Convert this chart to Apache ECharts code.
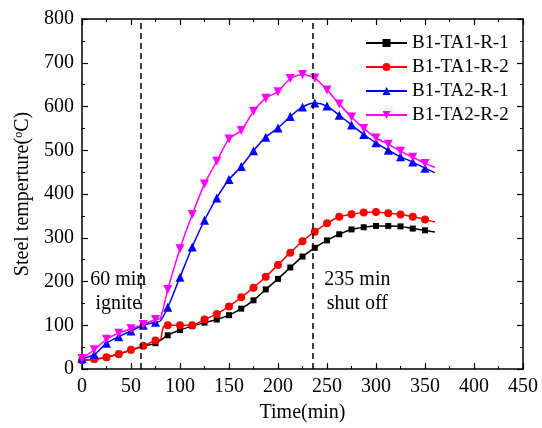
<!DOCTYPE html>
<html>
<head>
<meta charset="utf-8">
<script src="https://cdn.jsdelivr.net/npm/echarts@6/dist/echarts.min.js"></script>
<style>
html,body{margin:0;padding:0;background:#fff;}
#chart{width:542px;height:428px;}
</style>
</head>
<body>
<div id="chart"></div>
<script>
// Marker times (min)
const times = [0,12.5,25,37.5,50,62.5,75,87.5,100,112.5,125,137.5,150,162.5,175,187.5,200,212.5,225,237.5,250,262.5,275,287.5,300,312.5,325,337.5,350];
const seriesNames = ['B1-TA1-R-1','B1-TA1-R-2','B1-TA2-R-1','B1-TA2-R-2'];
const tempTA1R1 = [20,22,27,35,43,52,59,77,89,98,106,113,123,138,157,182,206,232,257,277,294,308,319,324,327,327,326,321,317];
const tempTA1R2 = [20,23,27,34,44,53,65,100,100,100,113,126,143,164,186,211,238,266,292,314,333,348,354,358,359,356,353,348,342];
const tempTA2R1 = [24,33,59,74,87,100,107,141,210,279,340,391,433,463,499,530,551,577,599,608,601,580,558,536,517,500,485,473,459];
const tempTA2R2 = [24,44,68,82,92,102,113,182,275,353,423,475,526,545,589,619,634,664,673,665,638,606,576,550,528,514,498,484,470];
// Extra curve points without markers [time, temp]
const extraTA1R1 = [[360,313]];
const extraTA1R2 = [[80,67],[83,96],[360,336]];
const extraTA2R1 = [[80,110],[360,449]];
const extraTA2R2 = [[80,116],[360,461]];
// Event lines
const eventTimes = [60,235];
const eventLabels = [['60 min','ignite'],['235 min','shut off']];
const xTicks = {min:0,max:450,interval:50};
const yTicks = {min:0,max:800,interval:100};

const FONT = '"Liberation Serif","Times New Roman",serif';

function buildData(vals, extra){
  const pts = times.map((t,i)=>({value:[t,vals[i]]}));
  extra.forEach(p=>pts.push({value:[p[0],p[1]],symbol:'none'}));
  pts.sort((a,b)=>a.value[0]-b.value[0]);
  return pts;
}

const styles = [
  {color:'#000000', symbol:'rect', size:6},
  {color:'#ff0000', symbol:'circle', size:8},
  {color:'#0000ff', symbol:'triangle', size:9},
  {color:'#ff00ff', symbol:'path://M0,0 L10,0 L5,9 Z', size:9}
];
const valsAll = [tempTA1R1,tempTA1R2,tempTA2R1,tempTA2R2];
const extrasAll = [extraTA1R1,extraTA1R2,extraTA2R1,extraTA2R2];

const series = seriesNames.map((n,i)=>({
  name:n, type:'line', smooth:0.25,
  data: buildData(valsAll[i], extrasAll[i]),
  symbol: styles[i].symbol, symbolSize: styles[i].size, showAllSymbol:true,
  lineStyle:{color:styles[i].color,width:1.5},
  itemStyle:{color:styles[i].color},
  emphasis:{disabled:true}, animation:false, clip:false
}));
series[0].markLine = {
  silent:true, symbol:['none','none'], animation:false,
  label:{show:false},
  lineStyle:{color:'#000',type:[6,4],width:1.5},
  data: eventTimes.map(t=>({xAxis:t}))
};

const axisCommon = {
  axisLine:{show:true,onZero:false,lineStyle:{color:'#000',width:1.5}},
  axisTick:{show:true,inside:true,length:6,lineStyle:{color:'#000',width:1.2}},
  minorTick:{show:true,splitNumber:2,length:3,lineStyle:{color:'#000',width:1}},
  splitLine:{show:false}
};

const chart = echarts.init(document.getElementById('chart'),null,{renderer:'canvas'});

chart.setOption({
  animation:false,
  backgroundColor:'#fff',
  grid:{left:82,right:19,top:19,bottom:51},
  legend:{
    orient:'vertical', left:365, top:33, padding:0, itemWidth:41, itemHeight:10, itemGap:4,
    textStyle:{fontFamily:FONT,fontSize:19,color:'#000',lineHeight:20},
    data:seriesNames
  },
  xAxis:[
    Object.assign({type:'value',position:'bottom',min:xTicks.min,max:xTicks.max,interval:xTicks.interval,
      name:'Time(min)',nameLocation:'middle',nameGap:34,
      nameTextStyle:{fontFamily:FONT,fontSize:20,color:'#000'},
      axisLabel:{fontFamily:FONT,fontSize:20,color:'#000',margin:8}},axisCommon),
    Object.assign({type:'value',position:'top',min:xTicks.min,max:xTicks.max,interval:xTicks.interval,
      axisLabel:{show:false}},axisCommon)
  ],
  yAxis:[
    Object.assign({type:'value',position:'left',min:yTicks.min,max:yTicks.max,interval:yTicks.interval,
      name:'Steel temperture({sup|o}C)',nameLocation:'middle',nameGap:49,
      nameTextStyle:{fontFamily:FONT,fontSize:20,color:'#000',
        rich:{sup:{fontFamily:FONT,fontSize:12,color:'#000',verticalAlign:'top',padding:[0,0,8,0]}}},
      axisLabel:{fontFamily:FONT,fontSize:20,color:'#000',margin:8}},axisCommon),
    Object.assign({type:'value',position:'right',min:yTicks.min,max:yTicks.max,interval:yTicks.interval,
      axisLabel:{show:false}},axisCommon)
  ],
  series:series
});

// Place annotation texts relative to the data scale
const textPos = [[[37,203],[37,150]],[[281,203],[281,150]]];
const upd = [];
eventTimes.forEach((t,i)=>{
  eventLabels[i].forEach((txt,j)=>{
    const p = chart.convertToPixel({xAxisIndex:0,yAxisIndex:0}, textPos[i][j]);
    upd.push({id:'ev'+i+'_'+j, type:'text', x:p[0], y:p[1], style:{text:txt, font:'20px '+FONT, fill:'#000', textAlign:'center', textVerticalAlign:'middle'}});
  });
});
chart.setOption({graphic:upd});
</script>
</body>
</html>
